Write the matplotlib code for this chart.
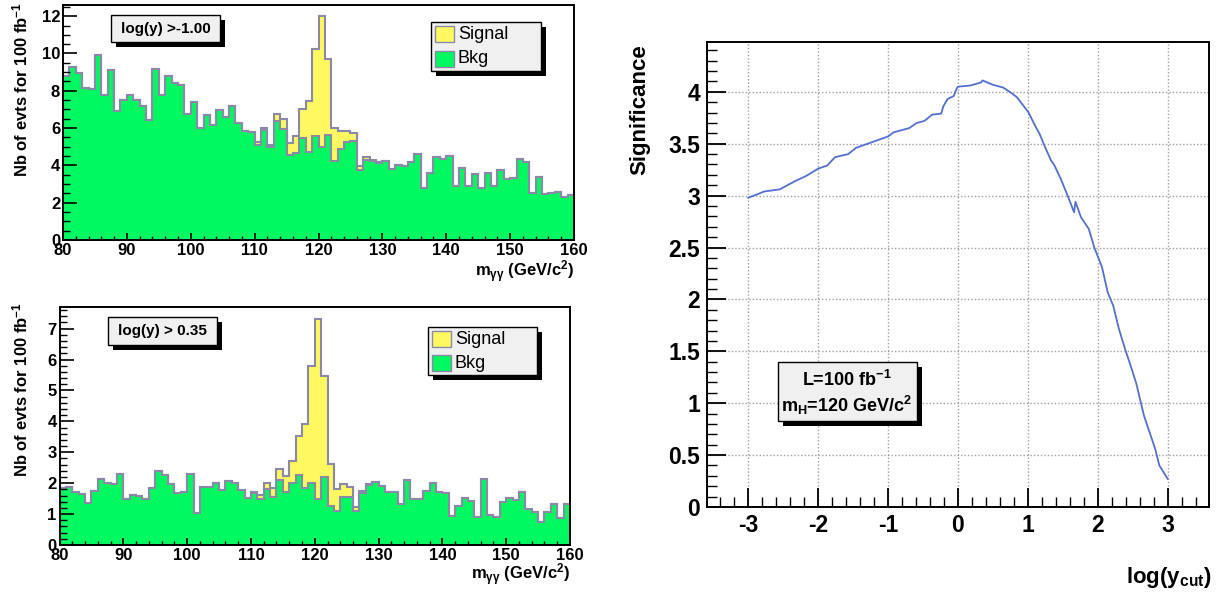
import numpy as np
import matplotlib
matplotlib.use("Agg")
import matplotlib.pyplot as plt
from matplotlib.patches import Rectangle
from matplotlib.ticker import MultipleLocator

plt.rcParams['font.family'] = ['Liberation Sans', 'DejaVu Sans']
plt.rcParams['mathtext.fontset'] = 'custom'
plt.rcParams['mathtext.rm'] = 'Liberation Sans:bold'
plt.rcParams['mathtext.it'] = 'Liberation Sans:italic:bold'
plt.rcParams['mathtext.bf'] = 'Liberation Sans:bold'
plt.rcParams['mathtext.default'] = 'rm'
plt.rcParams['axes.unicode_minus'] = False

# m_gg histograms, 1 GeV bins from 80 to 160
mass_lo, mass_hi = 80, 160

bkg_top = [8.80, 9.30, 8.97, 8.15, 8.10, 9.93, 7.78, 9.10, 6.94, 7.53,
           7.80, 7.50, 7.19, 6.46, 9.18, 7.78, 8.77, 8.42, 8.31, 6.73,
           7.38, 6.00, 6.71, 6.17, 6.99, 6.58, 7.19, 6.26, 5.82, 5.78,
           5.12, 5.90, 4.96, 6.37, 5.96, 4.54, 4.68, 5.48, 4.70, 5.57,
           4.98, 5.62, 4.25, 4.86, 5.25, 5.30, 3.77, 4.31, 4.22, 4.15,
           4.25, 3.79, 4.00, 3.97, 4.18, 4.59, 2.81, 3.59, 4.45, 4.36,
           4.52, 2.90, 3.88, 2.90, 3.54, 2.81, 3.59, 2.90, 3.74, 3.26,
           3.33, 4.34, 4.16, 2.53, 3.38, 2.47, 2.53, 2.58, 2.33, 2.40]
sig_top = [0.00, 0.00, 0.00, 0.00, 0.00, 0.00, 0.00, 0.00, 0.00, 0.00,
           0.00, 0.00, 0.00, 0.00, 0.00, 0.00, 0.00, 0.00, 0.00, 0.00,
           0.00, 0.00, 0.00, 0.00, 0.00, 0.00, 0.00, 0.00, 0.02, 0.02,
           0.13, 0.13, 0.13, 0.36, 0.53, 0.67, 0.92, 1.57, 2.77, 4.66,
           7.03, 4.06, 1.73, 0.98, 0.59, 0.43, 0.22, 0.14, 0.09, 0.03,
           0.00, 0.00, 0.00, 0.00, 0.00, 0.00, 0.00, 0.00, 0.00, 0.00,
           0.00, 0.00, 0.00, 0.00, 0.00, 0.00, 0.00, 0.00, 0.00, 0.00,
           0.00, 0.00, 0.00, 0.00, 0.00, 0.00, 0.00, 0.00, 0.00, 0.00]

bkg_bot = [1.83, 1.89, 1.70, 1.64, 1.36, 1.75, 2.15, 2.02, 1.98, 2.31,
           1.48, 1.61, 1.59, 1.48, 1.83, 2.39, 2.27, 1.96, 1.69, 1.73,
           2.29, 1.05, 1.89, 1.89, 2.02, 1.78, 2.08, 2.00, 1.78, 1.53,
           1.69, 1.49, 1.80, 1.56, 2.09, 1.73, 2.00, 2.27, 1.86, 2.02,
           1.48, 2.21, 1.27, 1.11, 1.54, 1.56, 1.10, 1.69, 1.93, 2.05,
           1.91, 1.70, 1.72, 1.32, 2.10, 1.48, 1.50, 1.75, 2.00, 1.73,
           1.67, 0.95, 1.26, 1.53, 1.42, 0.92, 2.15, 0.97, 0.92, 1.38,
           1.53, 1.47, 1.73, 1.15, 1.06, 0.76, 1.06, 1.32, 0.86, 1.32]
sig_bot = [0.00, 0.00, 0.00, 0.00, 0.00, 0.00, 0.00, 0.00, 0.00, 0.00,
           0.00, 0.00, 0.00, 0.00, 0.00, 0.00, 0.00, 0.00, 0.00, 0.00,
           0.00, 0.00, 0.00, 0.00, 0.00, 0.00, 0.00, 0.00, 0.00, 0.00,
           0.04, 0.13, 0.20, 0.30, 0.38, 0.49, 0.72, 1.25, 2.06, 3.78,
           5.83, 3.26, 1.35, 0.70, 0.43, 0.33, 0.14, 0.06, 0.04, 0.00,
           0.00, 0.00, 0.00, 0.00, 0.00, 0.00, 0.00, 0.00, 0.00, 0.00,
           0.00, 0.00, 0.00, 0.00, 0.00, 0.00, 0.00, 0.00, 0.00, 0.00,
           0.00, 0.00, 0.00, 0.00, 0.00, 0.00, 0.00, 0.00, 0.00, 0.00]

cut_labels = ["log(y) >-1.00", "log(y) > 0.35"]

# significance vs log(y_cut)
logy = [-3.00, -2.88, -2.77, -2.55, -2.44, -2.33, -2.17, -2.00, -1.87, -1.76,
        -1.57, -1.46, -1.25, -1.00, -0.92, -0.70, -0.59, -0.48, -0.37, -0.24,
        -0.21, -0.15, -0.06, -0.02, 0.00, 0.17, 0.33, 0.35, 0.49, 0.65,
        0.76, 0.84, 0.92, 1.01, 1.09, 1.17, 1.25, 1.33, 1.38, 1.47,
        1.55, 1.66, 1.68, 1.76, 1.87, 1.95, 2.06, 2.14, 2.22, 2.30,
        2.39, 2.47, 2.55, 2.66, 2.74, 2.82, 2.88, 3.00]
signif = [2.98, 3.01, 3.04, 3.06, 3.10, 3.14, 3.19, 3.26, 3.29, 3.37,
          3.40, 3.46, 3.51, 3.57, 3.61, 3.65, 3.70, 3.72, 3.78, 3.79,
          3.86, 3.93, 3.96, 4.03, 4.05, 4.06, 4.09, 4.11, 4.07, 4.04,
          3.99, 3.95, 3.88, 3.80, 3.69, 3.59, 3.46, 3.34, 3.29, 3.16,
          3.03, 2.84, 2.94, 2.79, 2.68, 2.50, 2.31, 2.07, 1.94, 1.72,
          1.52, 1.36, 1.19, 0.88, 0.72, 0.56, 0.40, 0.27]

YELLOW = "#fff860"
GREEN = "#00f860"
OUTLINE = "#8a8aa8"
BOXBG = "#f0f0f0"

W, H = 1217, 594
fig = plt.figure(figsize=(W / 100, H / 100), dpi=100)


def px_rect(x0, y0, x1, y1):
    # pixel box (y from top) -> figure fraction rect
    return [x0 / W, 1 - y1 / H, (x1 - x0) / W, (y1 - y0) / H]


def root_box(x0, y0, x1, y1, shadow=5):
    r = px_rect(x0, y0, x1, y1)
    fig.add_artist(Rectangle((r[0] + shadow / W, r[1] - shadow / H), r[2], r[3],
                             transform=fig.transFigure, fc="black", ec="none"))
    fig.add_artist(Rectangle((r[0], r[1]), r[2], r[3], transform=fig.transFigure,
                             fc=BOXBG, ec="black", lw=1))


def ftext(x, y, s, **kw):
    fig.text(x / W, 1 - y / H, s, **kw)


def style_axis(ax):
    for sp in ax.spines.values():
        sp.set_linewidth(1.4)
    ax.tick_params(which="both", direction="in", top=False, right=False)


ax1 = fig.add_axes(px_rect(63, 5, 574, 240))
ax2 = fig.add_axes(px_rect(59.5, 307, 570, 545))
ax3 = fig.add_axes(px_rect(707, 42, 1209, 507))

edges = np.arange(mass_lo, mass_hi + 1, 1)
for ax, bkg, sig, ymax, ymaj, ymin in [(ax1, bkg_top, sig_top, 12.6, 2, 0.5),
                                       (ax2, bkg_bot, sig_bot, 7.7, 1, 0.2)]:
    bkg = np.array(bkg)
    tot = bkg + np.array(sig)
    ax.stairs(tot, edges, fill=True, color=YELLOW, lw=0)
    ax.stairs(tot, edges, color=OUTLINE, lw=1.5)
    ax.stairs(bkg, edges, fill=True, color=GREEN, lw=0)
    ax.stairs(bkg, edges, color=OUTLINE, lw=1.5)
    ax.set_xlim(mass_lo, mass_hi)
    ax.set_ylim(0, ymax)
    ax.xaxis.set_major_locator(MultipleLocator(10))
    ax.xaxis.set_minor_locator(MultipleLocator(2))
    ax.yaxis.set_major_locator(MultipleLocator(ymaj))
    ax.yaxis.set_minor_locator(MultipleLocator(ymin))
    style_axis(ax)
    ax.tick_params(axis="y", which="major", length=10, width=1.2)
    ax.tick_params(axis="y", which="minor", length=5, width=1)
    ax.tick_params(axis="x", which="major", length=5, width=1.2)
    ax.tick_params(axis="x", which="minor", length=3, width=1)
    ax.tick_params(labelsize=12, pad=2)
    for lab in ax.get_xticklabels() + ax.get_yticklabels():
        lab.set_fontweight("bold")

# left panel titles/labels and ROOT-style boxes
for (ax_top, ax_right, label_y, box, leg, cut) in [
        (5, 574, 272, (111, 15, 220, 42), (431, 22, 541, 71), cut_labels[0]),
        (302, 570, 575, (108, 317, 217, 345), (428, 327, 537, 375), cut_labels[1])]:
    ftext(20, ax_top - 3 if ax_top == 5 else ax_top, r"Nb of evts for 100 fb$^{-1}$",
          rotation=90, ha="center", va="top", fontsize=12, fontweight="bold")
    ftext(ax_right, label_y, r"m$_{\gamma\gamma}$ (GeV/c$^{2}$)", ha="right",
          va="center", fontsize=12, fontweight="bold")
    root_box(*box)
    ftext((box[0] + box[2]) / 2, (box[1] + box[3]) / 2, cut, ha="center",
          va="center", fontsize=11, fontweight="bold")
    root_box(*leg)
    lx0, ly0, lx1, ly1 = leg
    hh = (ly1 - ly0) / 2
    for i, (name, col) in enumerate([("Signal", YELLOW), ("Bkg", GREEN)]):
        cy = ly0 + hh * (i + 0.5)
        fig.add_artist(Rectangle(((lx0 + 4) / W, 1 - (cy + 8) / H), 19 / W, 16 / H,
                                 transform=fig.transFigure, fc=col, ec=OUTLINE, lw=1))
        ftext(lx0 + 27, cy, name, ha="left", va="center", fontsize=13)

# right panel: significance curve
ax3.plot(logy, signif, color="#5470d0", lw=1.3)
ax3.set_xlim(-3.59, 3.59)
ax3.set_ylim(0, 4.48)
ax3.xaxis.set_major_locator(MultipleLocator(1))
ax3.xaxis.set_minor_locator(MultipleLocator(0.2))
ax3.yaxis.set_major_locator(MultipleLocator(0.5))
ax3.yaxis.set_minor_locator(MultipleLocator(0.1))
ax3.grid(True, which="major", color="#a0a0a0", linestyle=(0, (1, 1.5)), lw=1)
ax3.set_axisbelow(True)
style_axis(ax3)
ax3.tick_params(which="major", length=14, width=1.3)
ax3.tick_params(which="minor", length=7, width=1)
ax3.tick_params(labelsize=16.5, pad=5)
ax3.yaxis.set_major_formatter(plt.FuncFormatter(lambda v, p: f"{v:g}"))
ax3.xaxis.set_major_formatter(plt.FuncFormatter(lambda v, p: f"{v:g}"))
for lab in ax3.get_xticklabels() + ax3.get_yticklabels():
    lab.set_fontweight("bold")

ftext(640, 44, "Significance", rotation=90, ha="center", va="top",
      fontsize=16, fontweight="bold")
ftext(1212, 577, r"log(y$_{cut}$)", ha="right", va="center",
      fontsize=16, fontweight="bold")

root_box(778, 362, 917, 421, shadow=5)
ftext(847, 380, r"L=100 fb$^{-1}$", ha="center", va="center",
      fontsize=13, fontweight="bold")
ftext(847, 405, r"m$_{H}$=120 GeV/c$^{2}$", ha="center", va="center",
      fontsize=13, fontweight="bold")

fig.savefig("out.png", dpi=100, facecolor="white")
